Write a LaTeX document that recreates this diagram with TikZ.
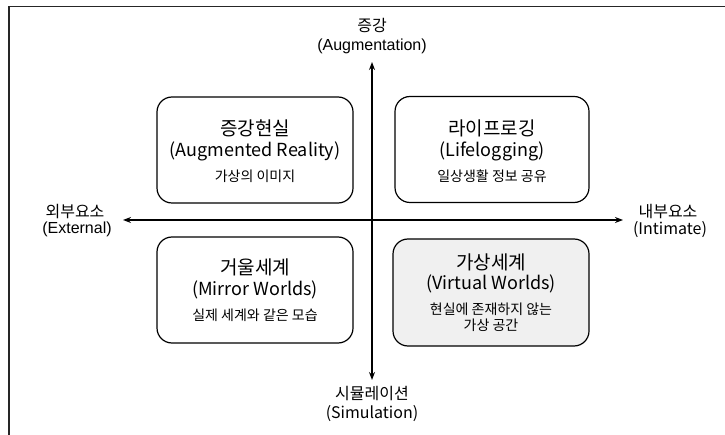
\documentclass[tikz,border=0pt]{standalone}
\usepackage{fontspec}
\setmainfont{Noto Sans CJK KR}
\newfontfamily\arialf{Liberation Sans}
\usetikzlibrary{arrows.meta}
\begin{document}
\begin{tikzpicture}[x=1pt,y=-1pt,
  quad/.style={draw=black,line width=1.2pt,rounded corners=15pt,minimum width=196pt,minimum height=106pt,inner sep=0pt},
  ttl/.style={font=\fontsize{18}{20}\selectfont,inner sep=0pt},
  kttl/.style={font=\fontsize{19}{21}\selectfont,inner sep=0pt},
  sub/.style={font=\fontsize{14}{16}\selectfont,inner sep=0pt},
  axl/.style={font=\fontsize{16}{18}\selectfont,inner sep=0pt},
  axis/.style={line width=1.8pt,{Stealth[length=8pt,width=6pt]}-{Stealth[length=8pt,width=6pt]}}]
\useasboundingbox (0,0) rectangle (725,435);
\coordinate (f1) at (9,435);
\coordinate (f2) at (9,6.5);
\coordinate (f3) at (725,6.5);
\draw[line width=1.5pt,draw=black!85] (f1) -- (f2) -- (f3);

% boxes
\node[quad] (tl) at (255,150) {};
\node[quad] (bl) at (255,290) {};
\node[quad,minimum width=194pt] (tr) at (492,149.5) {};
\node[quad,fill=black!6,minimum width=196pt,minimum height=107pt] (br) at (491,292.5) {};

% axes
\coordinate (top) at (372,62);
\coordinate (bot) at (372,380);
\coordinate (lft) at (123,220);
\coordinate (rgt) at (623,220);
\draw[axis] (top) -- (bot);
\draw[axis] (lft) -- (rgt);

% axis labels
\node[axl] (a1) at (372,25) {증강};
\node[axl,font=\arialf\fontsize{16}{18}\selectfont] (a2) at (372,46) {(Augmentation)};
\node[axl] (s1) at (372,394) {시뮬레이션};
\node[axl] (s2) at (372,414) {(Simulation)};
\node[axl] (e1) at (75,212) {외부요소};
\node[axl,font=\arialf\fontsize{16}{18}\selectfont] (e2) at (77,229) {(External)};
\node[axl] (i1) at (668,212) {내부요소};
\node[axl] (i2) at (670,230) {(Intimate)};

% box texts
\node[kttl] (t1) at (255,128) {증강현실};
\node[ttl] (t2) at (255,151) {(Augmented Reality)};
\node[sub] (t3) at (255,176) {가상의 이미지};

\node[kttl] (r1) at (492,128) {라이프로깅};
\node[ttl] (r2) at (492,151) {(Lifelogging)};
\node[sub] (r3) at (492,176) {일상생활 정보 공유};

\node[kttl] (b1) at (255,267) {거울세계};
\node[ttl] (b2) at (255,290) {(Mirror Worlds)};
\node[sub] (b3) at (255,315) {실제 세계와 같은 모습};

\node[kttl] (v1) at (491,262) {가상세계};
\node[ttl] (v2) at (491,284) {(Virtual Worlds)};
\node[sub] (v3) at (491,309) {현실에 존재하지 않는};
\node[sub] (v4) at (491,325) {가상 공간};
\end{tikzpicture}
\end{document}
